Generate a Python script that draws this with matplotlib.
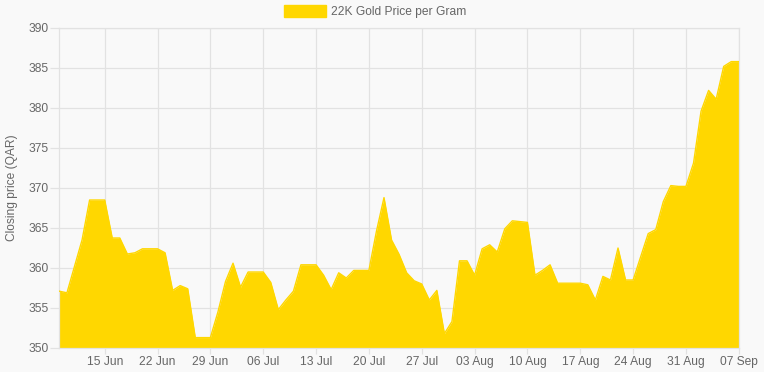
import matplotlib
matplotlib.use("Agg")
import matplotlib.pyplot as plt
from matplotlib.patches import Patch
import numpy as np

# Daily closing prices, 09 Jun .. 07 Sep
prices = [
    357.1, 356.9, 360.2, 363.5, 368.5, 368.5, 368.5, 363.75, 363.75, 361.75,
    361.9, 362.4, 362.4, 362.4, 361.9, 357.2, 357.8, 357.4, 351.3, 351.3,
    351.3, 354.5, 358.3, 360.6, 357.6, 359.5, 359.5, 359.5, 358.2, 354.8,
    356.0, 357.1, 360.4, 360.4, 360.4, 359.1, 357.3, 359.4, 358.75, 359.7,
    359.7, 359.7, 364.6, 368.8, 363.5, 361.7, 359.4, 358.4, 358.0, 356.0,
    357.2, 351.8, 353.3, 360.9, 360.9, 359.1, 362.4, 362.9, 362.0, 364.9,
    365.9, 365.8, 365.7, 359.1, 359.7, 360.4, 358.1, 358.1, 358.1, 358.1,
    357.9, 356.0, 358.95, 358.5, 362.5, 358.5, 358.5, 361.4, 364.3, 364.8,
    368.3, 370.3, 370.2, 370.2, 373.1, 379.6, 382.2, 381.1, 385.2, 385.8,
    385.8,
]
tick_labels = ["15 Jun", "22 Jun", "29 Jun", "06 Jul", "13 Jul", "20 Jul",
               "27 Jul", "03 Aug", "10 Aug", "17 Aug", "24 Aug", "31 Aug", "07 Sep"]
tick_days = [6, 13, 20, 27, 34, 41, 48, 55, 62, 69, 76, 83, 90]
y_ticks = [350, 355, 360, 365, 370, 375, 380, 385, 390]
series_label = "22K Gold Price per Gram"
y_label = "Closing price (QAR)"

plt.rcParams['font.family'] = ['Liberation Sans', 'DejaVu Sans']
bg = '#f9f9f9'
grid_c = '#e2e2e2'
text_c = '#666666'
gold = '#FFD700'
fs = 8.64

W, H = 764, 372
fig = plt.figure(figsize=(W/100, H/100), dpi=100, facecolor=bg)
ax = fig.add_axes([59.4/W, 24/H, (738.8-59.4)/W, 320/H], facecolor=bg)

x = np.arange(len(prices))
ax.fill_between(x, prices, 350, color=gold, lw=0, zorder=2)
ax.plot(x, prices, color=gold, lw=1, zorder=3)

ax.set_xlim(0, len(prices) - 1)
ax.set_ylim(350, 390)
ax.set_xticks(tick_days)
ax.set_xticklabels(tick_labels)
ax.set_yticks(y_ticks)
ax.grid(True, color=grid_c, lw=0.9, zorder=0)
ax.tick_params(axis='both', colors=grid_c, width=0.9,
               labelcolor=text_c, labelsize=fs)
ax.tick_params(axis='y', length=6.5, pad=1)
ax.tick_params(axis='x', length=4, pad=2)
for s in ax.spines.values():
    s.set_color(grid_c)
    s.set_linewidth(0.9)

fig.text(12.5/W, 1 - 188/H, y_label, rotation=90, ha='center', va='center',
         color=text_c, fontsize=fs)

fig.legend(handles=[Patch(facecolor=gold, edgecolor=gold, label=series_label)],
           loc='center', bbox_to_anchor=(375.2/W, 1 - 11.7/H), frameon=False,
           fontsize=fs, labelcolor=text_c, handlelength=3.5, handleheight=1.17,
           handletextpad=0.47)

fig.savefig("out.png", dpi=100, facecolor=bg)
